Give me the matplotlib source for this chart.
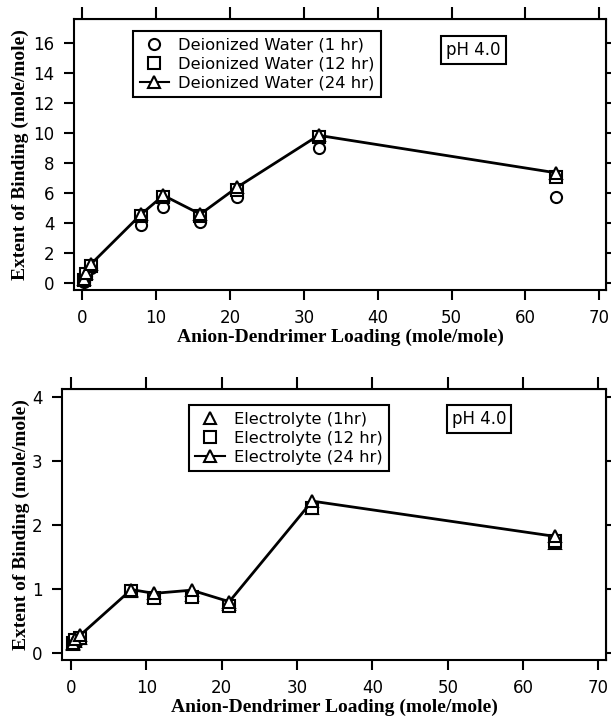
import matplotlib
matplotlib.use("Agg")
import matplotlib.pyplot as plt
from matplotlib.lines import Line2D

# loading values (mole/mole)
loading = [0.25, 0.5, 1.25, 8, 11, 16, 21, 32, 64.2]

# deionized water series
dw_1hr = [0.1, 0.5, 1.0, 3.85, 5.1, 4.1, 5.75, 9.0, 5.75]
dw_12hr = [0.2, 0.6, 1.15, 4.45, 5.75, 4.45, 6.2, 9.75, 7.05]
dw_24hr = [0.25, 0.7, 1.3, 4.6, 5.85, 4.6, 6.4, 9.85, 7.35]

# electrolyte series
el_1hr = [0.14, 0.18, 0.24, 0.97, 0.88, 0.9, 0.76, 2.27, 1.71]
el_12hr = [0.15, 0.2, 0.24, 0.96, 0.86, 0.87, 0.73, 2.26, 1.74]
el_24hr = [0.16, 0.22, 0.28, 0.99, 0.93, 0.98, 0.8, 2.37, 1.82]

dw_labels = ["Deionized Water (1 hr)", "Deionized Water (12 hr)", "Deionized Water (24 hr)"]
el_labels = ["Electrolyte (1hr)", "Electrolyte (12 hr)", "Electrolyte (24 hr)"]

tick_font = "DejaVu Sans"
label_font = {"family": "Liberation Serif", "weight": "bold", "size": 14}

fig = plt.figure(figsize=(6.11, 7.19), dpi=100)
ax1 = fig.add_axes([74/611, 1-290/719, 532/611, 271/719])
ax2 = fig.add_axes([62/611, 1-660/719, 544/611, 271/719])

mk = dict(markersize=8, markeredgewidth=1.5, markerfacecolor="white", markeredgecolor="black")


def style(ax, xlim, ylim, yticks, ylab_x):
    ax.set_xlim(*xlim)
    ax.set_ylim(*ylim)
    ax.set_xticks(range(0, 71, 10))
    ax.set_yticks(yticks)
    for sp in ax.spines.values():
        sp.set_linewidth(1.5)
    ax.tick_params(axis="both", direction="out", length=7, width=1.5,
                   labelsize=12, pad=7)
    for lab in ax.get_xticklabels() + ax.get_yticklabels():
        lab.set_fontfamily(tick_font)
    top = ax.secondary_xaxis("top")
    top.set_xticks(range(0, 71, 10))
    top.tick_params(direction="out", length=9, width=1.5, labeltop=False)
    right = ax.secondary_yaxis("right")
    right.set_yticks(yticks)
    right.tick_params(direction="out", length=4, width=1.5, labelright=False)
    ax.set_xlabel("Anion-Dendrimer Loading (mole/mole)", fontdict=label_font, labelpad=1)
    ax.set_ylabel("Extent of Binding (mole/mole)", fontdict=label_font)
    ax.yaxis.set_label_coords(ylab_x, 0.5)


def add_legend(ax, handles, labels, anchor):
    leg = ax.legend(handles, labels, loc="upper left", bbox_to_anchor=anchor,
                    prop={"family": tick_font, "size": 11.8}, frameon=True, fancybox=False,
                    edgecolor="black", framealpha=1, borderpad=0.4, labelspacing=0.25,
                    handlelength=1.8, handletextpad=0.55, borderaxespad=0)
    leg.get_frame().set_linewidth(1.5)


def add_ph(ax, x, y):
    ax.text(x, y, "pH 4.0", transform=ax.transAxes, ha="center", va="center",
            fontsize=12, family=tick_font,
            bbox=dict(boxstyle="square,pad=0.3", facecolor="white", edgecolor="black", linewidth=1.5))


# top panel
ax1.plot(loading, dw_1hr, linestyle="none", marker="o", **mk)
ax1.plot(loading, dw_12hr, linestyle="none", marker="s", **mk)
ax1.plot(loading, dw_24hr, color="black", linewidth=2, marker="^", **mk)
style(ax1, (-1.1, 70.9), (-0.45, 17.6), range(0, 17, 2), -0.0846)

h1 = [Line2D([], [], linestyle="none", marker="o", **mk),
      Line2D([], [], linestyle="none", marker="s", **mk),
      Line2D([], [], color="black", linewidth=1.5, marker="^", **mk)]
add_legend(ax1, h1, dw_labels, (0.111, 0.956))
add_ph(ax1, 0.751, 0.887)

# bottom panel
ax2.plot(loading, el_1hr, linestyle="none", marker="^", **mk)
ax2.plot(loading, el_12hr, linestyle="none", marker="s", **mk)
ax2.plot(loading, el_24hr, color="black", linewidth=2, marker="^", **mk)
style(ax2, (-1.2, 71.0), (-0.11, 4.12), range(0, 5, 1), -0.0588)

h2 = [Line2D([], [], linestyle="none", marker="^", **mk),
      Line2D([], [], linestyle="none", marker="s", **mk),
      Line2D([], [], color="black", linewidth=1.5, marker="^", **mk)]
add_legend(ax2, h2, el_labels, (0.233, 0.941))
add_ph(ax2, 0.767, 0.889)

fig.savefig("out.png", dpi=100)
